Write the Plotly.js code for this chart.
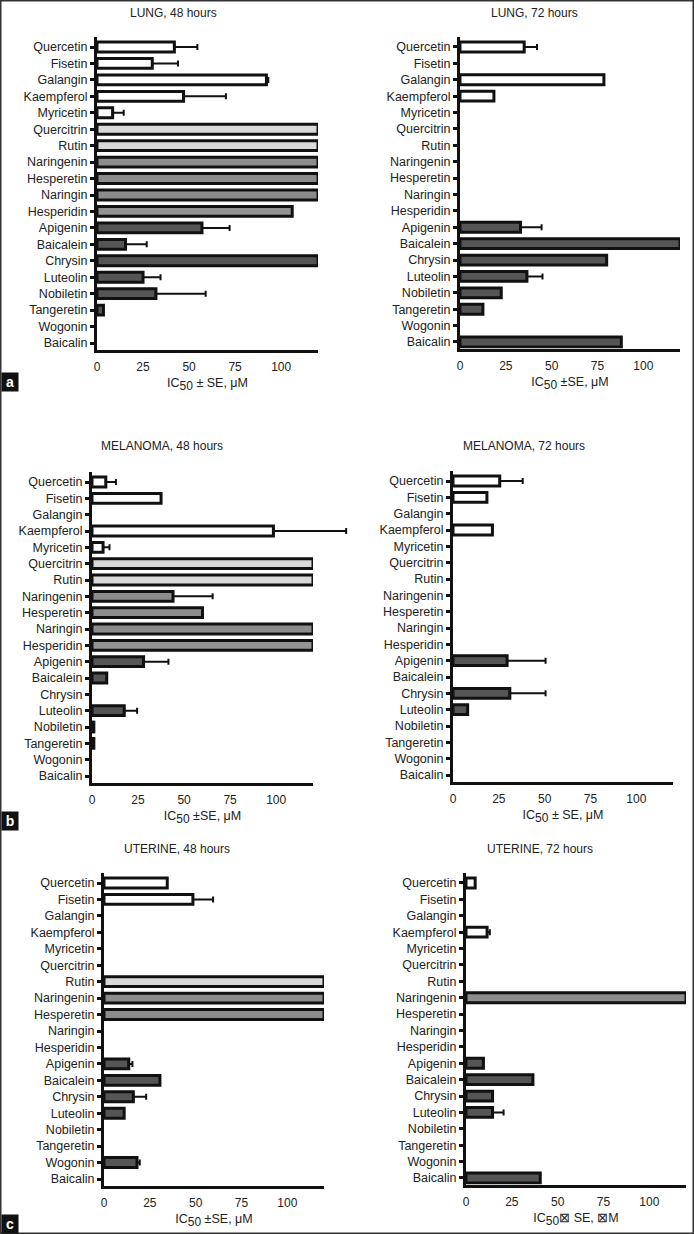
<!DOCTYPE html>
<html><head><meta charset="utf-8">
<script src="https://cdn.plot.ly/plotly-3.0.1.min.js"></script>
<style>html,body{margin:0;padding:0;background:#fff}#chart{width:694px;height:1234px}</style>
</head><body><div id="chart"></div>
<script>
// ---------------- DATA ----------------
const compounds = ['Quercetin','Fisetin','Galangin','Kaempferol','Myricetin','Quercitrin','Rutin','Naringenin','Hesperetin','Naringin','Hesperidin','Apigenin','Baicalein','Chrysin','Luteolin','Nobiletin','Tangeretin','Wogonin','Baicalin'];
const xTickVals = [0, 25, 50, 75, 100];

const lung48    = [42, 30, 92, 47, 8.5, 120, 120, 120, 120, 120, 106, 57, 15.5, 120, 25, 32, 3.5, null, null];
const lung48Err = [12.5, 14, 1, 23, 6, null, null, null, null, null, null, 15, 11.5, null, 9.5, 27, null, null, null];
const lung72    = [35, null, 78.5, 18.5, null, null, null, null, null, null, null, 33, 120, 80, 36.5, 22.5, 12.5, null, 88];
const lung72Err = [7, null, null, null, null, null, null, null, null, null, null, 11.5, null, null, 8.5, null, null, null, null];
const mel48     = [7.5, 37.5, null, 98.5, 6, 120, 120, 44, 60, 120, 120, 28, 8, null, 17.5, 1, 1, null, null];
const mel48Err  = [5.5, null, null, 39.5, 3.5, null, null, 21.5, null, null, null, 13.5, null, null, 7, null, null, null, null];
const mel72     = [25.5, 18.5, null, 21.5, null, null, null, null, null, null, null, 29.5, null, 31, 8, null, null, null, null];
const mel72Err  = [12.5, null, null, null, null, null, null, null, null, null, null, 21, null, 19.5, null, null, null, null, null];
const ut48      = [34.5, 48.5, null, null, null, null, 120, 120, 120, null, null, 13.5, 30.5, 16, 11, null, null, 18, null];
const ut48Err   = [null, 11, null, null, null, null, null, null, null, null, null, 2, null, 7, null, null, null, 1.5, null];
const ut72      = [5, null, null, 11.5, null, null, null, 120, null, null, null, 9.5, 36.5, 14.5, 14.5, null, null, null, 40.5];
const ut72Err   = [null, null, null, 1.5, null, null, null, null, null, null, null, null, null, null, 6, null, null, null, null];

const panelTitles = ['LUNG, 48 hours','LUNG, 72 hours','MELANOMA, 48 hours','MELANOMA, 72 hours','UTERINE, 48 hours','UTERINE, 72 hours'];
const SUB = "<sub><span style='font-size:12px'>50</span></sub>";
const axisTitles = ['IC' + SUB + ' ± SE, μM','IC' + SUB + ' ±SE, μM','IC' + SUB + ' ±SE, μM','IC' + SUB + ' ± SE, μM','IC' + SUB + ' ±SE, μM','IC' + SUB + '⊠ SE, ⊠M'];
const panelLetters = ['a','b','c'];

// ---------------- STYLE / LAYOUT ----------------
const W = 694, H = 1234;
const X_MAX = 120;
const barColors = ['#ffffff','#ffffff','#ffffff','#ffffff','#ffffff','#d9d9d9','#d9d9d9','#8c8c8c','#8c8c8c','#8c8c8c','#939393','#555555','#555555','#555555','#555555','#555555','#555555','#555555','#555555'];
const geo = [
  {x0:97,  x1:318, yq:47,  yb:343,  tx:173, ty:13},
  {x0:460, x1:680, yq:47,  yb:342,  tx:534, ty:13},
  {x0:92,  x1:313, yq:482, yb:776,  tx:162, ty:446},
  {x0:453, x1:673, yq:481, yb:775,  tx:524, ty:446},
  {x0:104, x1:324, yq:883, yb:1179, tx:177, ty:849},
  {x0:466, x1:686, yq:883, yb:1178, tx:540, ty:849}
];
const letterY = [382, 821, 1224];

const values = [lung48, lung72, mel48, mel72, ut48, ut72];
const errs = [lung48Err, lung72Err, mel48Err, mel72Err, ut48Err, ut72Err];

const fx = p => p / W;
const fy = p => 1 - p / H;
const FONT = 'Liberation Sans, Arial, sans-serif';

const traces = [];
const layout = {
  width: W, height: H,
  margin: {l:0, r:0, t:0, b:0},
  paper_bgcolor: '#ffffff', plot_bgcolor: 'rgba(0,0,0,0)',
  showlegend: false,
  font: {family: FONT, color: '#222', size: 12},
  annotations: [],
  shapes: [{type:'rect', xref:'paper', yref:'paper', x0: fx(0.75), x1: fx(W-0.75), y0: fy(H-0.75), y1: fy(0.75), line:{color:'#333', width:1.5}}]
};

values.forEach((vals, i) => {
  const g = geo[i];
  const n = compounds.length;
  const s = (g.yb - g.yq) / (n - 1);
  const top = g.yq - 0.6 * s, bot = g.yb + 0.4 * s;
  const sfx = i === 0 ? '' : String(i + 1);
  const errSfx = String(i + 7);
  const err = errs[i];
  // hidden companion axis with the same scale but a wider span, so error bars may run past the axis end
  const pxPerUnit = (g.x1 - g.x0) / X_MAX;
  const extMax = Math.min(145, (W - 2 - g.x0) / pxPerUnit);
  traces.push({
    type: 'bar', orientation: 'h',
    x: vals, y: compounds,
    xaxis: 'x' + sfx, yaxis: 'y' + sfx,
    width: 0.6,
    cliponaxis: false,
    marker: {color: barColors, line: {color: '#111', width: 3}},
    hoverinfo: 'x+y'
  });
  traces.push({
    type: 'scatter', mode: 'markers',
    x: vals.map((v, k) => err[k] == null ? null : v), y: compounds,
    xaxis: 'x' + errSfx, yaxis: 'y' + sfx,
    cliponaxis: false,
    marker: {size: 1, color: 'rgba(0,0,0,0)'},
    error_x: {type: 'data', symmetric: false, array: err, arrayminus: err.map(e => e == null ? null : 0), color: '#111', thickness: 2, width: 3},
    hoverinfo: 'skip'
  });
  layout['xaxis' + sfx] = {
    domain: [fx(g.x0), fx(g.x1)], anchor: 'y' + sfx,
    range: [0, X_MAX], tickvals: xTickVals, ticks: '', showgrid: false, zeroline: false,
    showline: true, linecolor: '#111', linewidth: 3,
    tickfont: {family: FONT, size: 12, color: '#222'},
    ticklabelstandoff: 4,
    title: {text: axisTitles[i], font: {family: FONT, size: 12.5, color: '#222'}, standoff: 6}
  };
  layout['xaxis' + errSfx] = {
    domain: [fx(g.x0), fx(g.x0 + extMax * pxPerUnit)], anchor: 'y' + sfx,
    range: [0, extMax], visible: false, showgrid: false, zeroline: false, showline: false, showticklabels: false
  };
  layout['yaxis' + sfx] = {
    domain: [fy(bot), fy(top)], anchor: 'x' + sfx,
    type: 'category', categoryarray: compounds, range: [n - 0.6, -0.6],
    ticks: 'outside', ticklen: 4, tickwidth: 3, tickcolor: '#111',
    showgrid: false, zeroline: false, showline: true, linecolor: '#111', linewidth: 3,
    tickfont: {family: FONT, size: 12.5, color: '#222'}
  };
  layout.annotations.push({
    text: panelTitles[i], xref: 'paper', yref: 'paper', x: fx(g.tx), y: fy(g.ty),
    xanchor: 'center', yanchor: 'middle', showarrow: false,
    font: {family: FONT, size: 12, color: '#222'}
  });
});

panelLetters.forEach((L, k) => {
  layout.annotations.push({
    text: '<b>' + L + '</b>', xref: 'paper', yref: 'paper', x: fx(1), y: fy(letterY[k]),
    xanchor: 'left', yanchor: 'middle', showarrow: false,
    bgcolor: '#111', width: 14, height: 16, borderpad: 1,
    font: {family: FONT, size: 14, color: '#ffffff'}
  });
});

Plotly.newPlot('chart', traces, layout, {displayModeBar: false, staticPlot: true});
</script>
</body></html>
